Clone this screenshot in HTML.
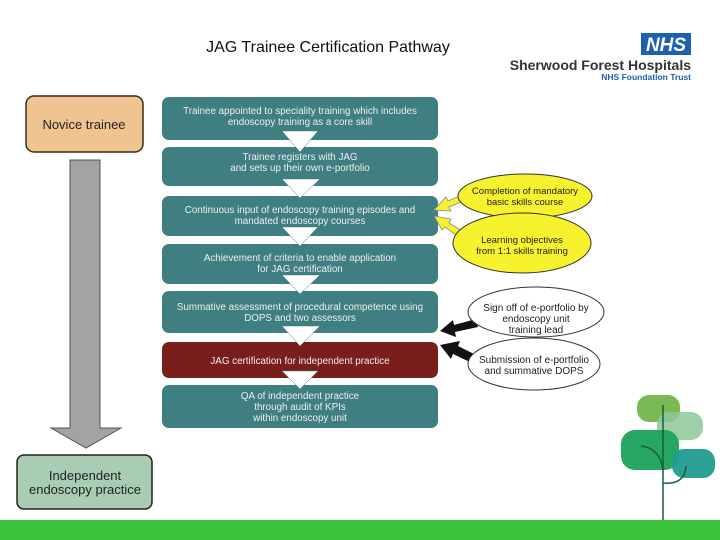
<!DOCTYPE html>
<html><head><style>
body{margin:0;width:720px;height:540px;position:relative;background:#fff;font-family:"Liberation Sans",sans-serif;overflow:hidden}
svg{position:absolute;left:0;top:0}
</style></head><body>
<svg width="720" height="540" viewBox="0 0 720 540" font-family="Liberation Sans, sans-serif">
<text x="328" y="52" font-size="16" text-anchor="middle" fill="#111">JAG Trainee Certification Pathway</text>
<rect x="641" y="33" width="50" height="22" fill="#1d5fb0"/>
<text x="666" y="51" font-size="19" font-weight="bold" font-style="italic" fill="#fff" text-anchor="middle">NHS</text>
<text x="691" y="70" font-size="14" font-weight="bold" fill="#333" text-anchor="end">Sherwood Forest Hospitals</text>
<text x="691" y="80" font-size="8.5" font-weight="bold" fill="#1d5fb0" text-anchor="end">NHS Foundation Trust</text>

<rect x="26" y="96" width="117" height="56" rx="8" fill="#f0c490" stroke="#3a2a1a" stroke-width="1.5"/>
<text x="84" y="129" font-size="13" text-anchor="middle" fill="#222">Novice trainee</text>
<polygon points="70,160 100,160 100,428 121,428 86,448 51,428 70,428" fill="#a3a3a3" stroke="#555" stroke-width="1"/>
<rect x="17" y="455" width="135" height="54" rx="7" fill="#a9cdb3" stroke="#222" stroke-width="1.5"/>
<text x="85" y="480" font-size="13" text-anchor="middle" fill="#222">Independent</text>
<text x="85" y="494" font-size="13" text-anchor="middle" fill="#222">endoscopy practice</text>

<g font-size="9.8" text-anchor="middle">
<rect x="162" y="97" width="276" height="43" rx="7" fill="#3f7e81"/>
<text x="300" y="114" fill="#eee">Trainee appointed to speciality training which includes</text>
<text x="300" y="125" fill="#eee">endoscopy training as a core skill</text>
<rect x="162" y="147" width="276" height="39" rx="7" fill="#3f7e81"/>
<text x="300" y="160" fill="#eee">Trainee registers with JAG</text>
<text x="300" y="171" fill="#eee">and sets up their own e-portfolio</text>
<rect x="162" y="196" width="276" height="40" rx="7" fill="#3f7e81"/>
<text x="300" y="213" fill="#eee">Continuous input of endoscopy training episodes and</text>
<text x="300" y="224" fill="#eee">mandated endoscopy courses</text>
<rect x="162" y="244" width="276" height="40" rx="7" fill="#3f7e81"/>
<text x="300" y="261" fill="#eee">Achievement of criteria to enable application</text>
<text x="300" y="272" fill="#eee">for JAG certification</text>
<rect x="162" y="291" width="276" height="42" rx="7" fill="#3f7e81"/>
<text x="300" y="310" fill="#eee">Summative assessment of procedural competence using</text>
<text x="300" y="321" fill="#eee">DOPS and two assessors</text>
<rect x="162" y="342" width="276" height="36" rx="7" fill="#7a1e1b"/>
<text x="300" y="364" fill="#eee">JAG certification for independent practice</text>
<rect x="162" y="385" width="276" height="43" rx="7" fill="#3f7e81"/>
<text x="300" y="399" fill="#eee">QA of independent practice</text>
<text x="300" y="410" fill="#eee">through audit of KPIs</text>
<text x="300" y="421" fill="#eee">within endoscopy unit</text>
</g>
<g fill="#fff" stroke="#3f7e81" stroke-width="0.5">
<polygon points="282,131 318,131 300,152"/>
<polygon points="282,179 320,179 300,198"/>
<polygon points="282,227 318,227 300,246"/>
<polygon points="282,275 320,275 300,294"/>
<polygon points="282,326 320,326 300,346"/>
<polygon points="282,371 318,371 300,389"/>
</g>

<polygon points="464,194 448,201 446,197 434,210 451,211 449,207 466,200" fill="#f4f032" stroke="#888" stroke-width="0.8"/>
<polygon points="464,232 449,223 451,219 434,216 442,230 445,227 460,238" fill="#f4f032" stroke="#888" stroke-width="0.8"/>
<ellipse cx="525" cy="196" rx="67" ry="22" fill="#f6f22e" stroke="#333" stroke-width="1"/>
<text x="525" y="194" font-size="9.5" text-anchor="middle" fill="#222">Completion of mandatory</text>
<text x="525" y="205" font-size="9.5" text-anchor="middle" fill="#222">basic skills course</text>
<ellipse cx="522" cy="243" rx="69" ry="30" fill="#f6f22e" stroke="#333" stroke-width="1"/>
<text x="522" y="243" font-size="9.5" text-anchor="middle" fill="#222">Learning objectives</text>
<text x="522" y="254" font-size="9.5" text-anchor="middle" fill="#222">from 1:1 skills training</text>

<polygon points="476,319 454,325 453,320 440,331 456,337 455,332 478,327" fill="#111"/>
<polygon points="478,356 458,346 460,341 440,345 451,359 453,354 474,364" fill="#111"/>
<ellipse cx="536" cy="312" rx="68" ry="25" fill="#fff" stroke="#333" stroke-width="1"/>
<text x="536" y="311" font-size="10" text-anchor="middle" fill="#222">Sign off of e-portfolio by</text>
<text x="536" y="322" font-size="10" text-anchor="middle" fill="#222">endoscopy unit</text>
<text x="536" y="333" font-size="10" text-anchor="middle" fill="#222">training lead</text>
<ellipse cx="534" cy="364" rx="66" ry="26" fill="#fff" stroke="#333" stroke-width="1"/>
<text x="534" y="363" font-size="10" text-anchor="middle" fill="#222">Submission of e-portfolio</text>
<text x="534" y="374" font-size="10" text-anchor="middle" fill="#222">and summative DOPS</text>

<rect x="637" y="395" width="43" height="27" rx="12" fill="#6db33f" opacity="0.9"/>
<rect x="657" y="412" width="46" height="28" rx="12" fill="#8cc79a" opacity="0.85"/>
<rect x="621" y="430" width="58" height="40" rx="14" fill="#1aa35a" opacity="0.95"/>
<rect x="672" y="449" width="43" height="29" rx="12" fill="#1f9c8e" opacity="0.95"/>
<line x1="663" y1="405" x2="663" y2="520" stroke="#1f5a40" stroke-width="1.5"/>
<path d="M641,446 Q660,448 663,470" fill="none" stroke="#1f5a40" stroke-width="1.5"/>
<path d="M663,483 Q685,485 686,466" fill="none" stroke="#1f5a40" stroke-width="1.5"/>
<rect x="0" y="520" width="720" height="20" fill="#3dc43c"/>
</svg>
</body></html>
